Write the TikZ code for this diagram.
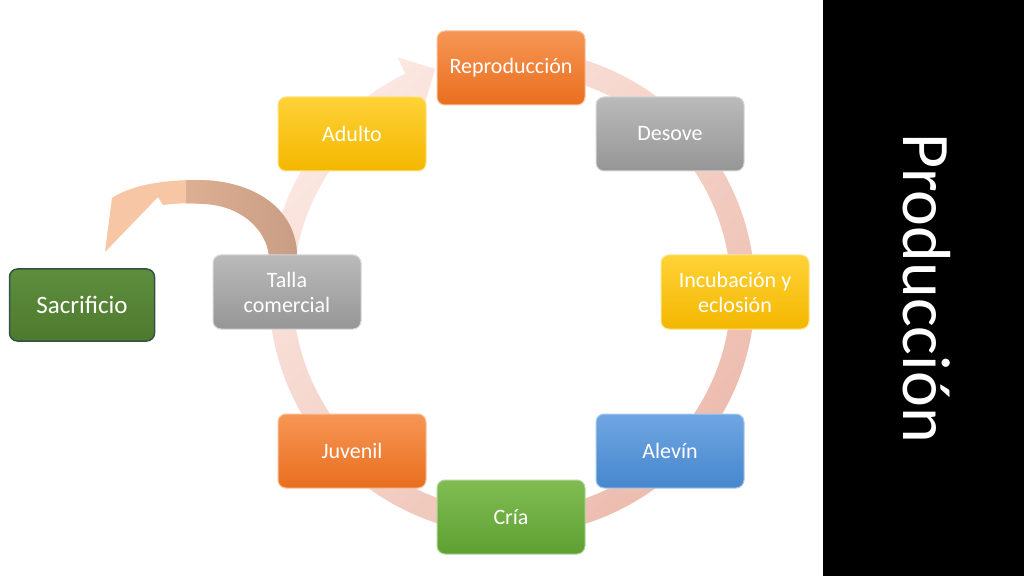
\documentclass[tikz,border=0pt]{standalone}
\usepackage{fontspec}
\setmainfont{Carlito}
\definecolor{oT}{RGB}{246,150,85}
\definecolor{oB}{RGB}{233,110,30}
\definecolor{gT}{RGB}{186,186,186}
\definecolor{gB}{RGB}{150,150,150}
\definecolor{yT}{RGB}{255,210,55}
\definecolor{yB}{RGB}{243,183,0}
\definecolor{bT}{RGB}{112,166,226}
\definecolor{bB}{RGB}{70,135,205}
\definecolor{grT}{RGB}{128,188,82}
\definecolor{grB}{RGB}{95,160,50}
\definecolor{sT}{RGB}{94,142,62}
\definecolor{sB}{RGB}{78,122,46}
\definecolor{sBorder}{RGB}{52,82,72}
\definecolor{ringlight}{RGB}{251,232,225}
\definecolor{ringmid}{RGB}{239,200,188}
\definecolor{ringdark}{RGB}{236,186,172}
\definecolor{peachc}{RGB}{246,198,165}
\definecolor{tanc}{RGB}{200,157,132}
\begin{document}
\begin{tikzpicture}[x=1pt,y=1pt,
  box/.style={rectangle, rounded corners=8pt, minimum width=148pt, minimum height=74pt,
    text=white, align=center, font=\fontsize{22}{25}\selectfont, line width=1pt, inner sep=2pt},
  boxorange/.style={top color=oT, bottom color=oB, draw=oT!60!white},
  boxgray/.style={top color=gT, bottom color=gB, draw=gT!60!white},
  boxyellow/.style={top color=yT, bottom color=yB, draw=yT!60!white},
  boxblue/.style={top color=bT, bottom color=bB, draw=bT!60!white},
  boxgreen/.style={top color=grT, bottom color=grB, draw=grT!60!white},
  sacbox/.style={rectangle, rounded corners=8pt, minimum width=145pt, minimum height=72pt,
    text=white, font=\fontsize{25}{30}\selectfont, top color=sT, bottom color=sB,
    draw=sBorder, line width=1.5pt},
  ringshape/.style={top color=ringlight, middle color=ringmid, bottom color=ringdark, shading angle=45}
]
\useasboundingbox (0,0) rectangle (1024,576);
\fill[white] (0,0) rectangle (1024,576);
% black side panel
\fill[black] (823,0) rectangle (1024,576);
\node[rotate=-90, anchor=base, text=white, font=\fontsize{68}{80}\selectfont] (title) at (903,288) {Producción};

% circular arrow ring
\begin{scope}[shift={(512,284)}]
\shade[ringshape] (80:243) arc[start angle=80,end angle=-244,radius=243]
  -- (116:261) -- (109:236) -- (116:203) -- (116:219)
  arc[start angle=-244,end angle=80,radius=219] -- cycle;
\end{scope}

% curved arrow towards Sacrificio
\def\curvedarrow{(297,320) .. controls (297,366) and (255,396) .. (197,396)
  .. controls (160,396) and (130,390) .. (112,378)
  -- (105,324) -- (158,379) -- (163,371)
  .. controls (178,373) and (190,373) .. (205,372)
  .. controls (240,370) and (266,348) .. (269,320) -- cycle}
\fill[peachc] \curvedarrow;
\begin{scope}
\clip \curvedarrow;
\shade[left color=tanc!55!peachc, right color=tanc] (186,300) rectangle (300,400);
\end{scope}

% boxes
\node[box, boxorange] (repro) at (511,508) {Reproducción};
\node[box, boxgray] (desove) at (670,442) {Desove};
\node[box, boxyellow] (incub) at (735,284) {Incubación y\\eclosión};
\node[box, boxblue] (alevin) at (670,125) {Alevín};
\node[box, boxgreen] (cria) at (511,59) {Cría};
\node[box, boxorange] (juvenil) at (352,125) {Juvenil};
\node[box, boxgray] (talla) at (287,284) {Talla\\comercial};
\node[box, boxyellow] (adulto) at (352,442) {Adulto};
\node[sacbox] (sacr) at (82,271) {Sacrificio};
\end{tikzpicture}
\end{document}
